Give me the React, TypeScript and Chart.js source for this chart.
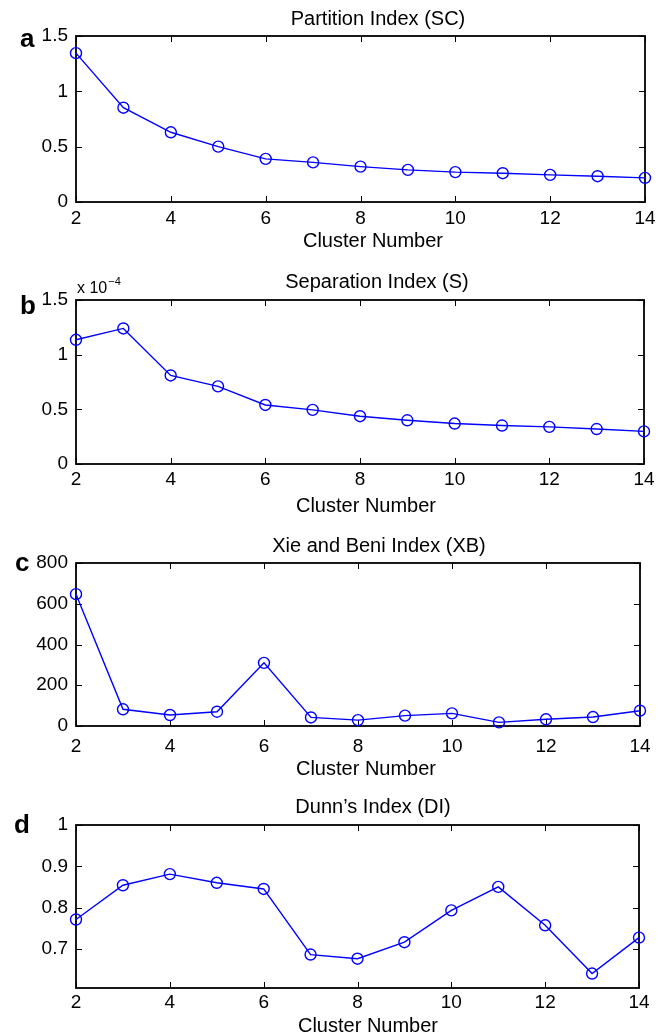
import React, { useEffect, useRef } from "react";
import { Chart, registerables } from "chart.js";

Chart.register(...registerables);

// ---------------- data ----------------
const CLUSTER_NUMBERS = [2, 3, 4, 5, 6, 7, 8, 9, 10, 11, 12, 13, 14];
const X_TICKS = [2, 4, 6, 8, 10, 12, 14];

const PARTITION_SC = [1.345, 0.852, 0.63, 0.5, 0.39, 0.358, 0.32, 0.29, 0.27, 0.26, 0.245, 0.233, 0.218];
// Separation index, in units of 10^-4
const SEPARATION_S = [1.136, 1.24, 0.81, 0.71, 0.54, 0.495, 0.437, 0.4, 0.37, 0.352, 0.34, 0.32, 0.298];
const XIE_BENI_XB = [647, 82, 54, 70, 310, 42, 29, 51, 62, 18, 33, 44, 75];
const DUNN_DI = [0.771, 0.854, 0.881, 0.86, 0.845, 0.686, 0.676, 0.716, 0.793, 0.85, 0.757, 0.64, 0.727];

const Y_TICKS_SC = [0, 0.5, 1, 1.5];
const Y_TICKS_S = [0, 0.5, 1, 1.5];
const Y_TICKS_XB = [0, 200, 400, 600, 800];
const Y_TICKS_DI = [0.7, 0.8, 0.9, 1];

const TITLES = [
  "Partition Index (SC)",
  "Separation Index (S)",
  "Xie and Beni Index (XB)",
  "Dunn\u2019s Index (DI)",
];
const PANEL_LETTERS = ["a", "b", "c", "d"];
const X_LABEL = "Cluster Number";
const EXPONENT_BASE = "x 10";
const EXPONENT_POWER = "\u22124";

// ---------------- layout / style ----------------
const WIDTH = 666;
const PLOT_LEFT = 76;
const X_AXIS_H = 30;
const TICK_LEN = 6;
const BLUE = "#0000ff";
const FONT = '"Liberation Sans", Arial, Helvetica, sans-serif';

const PANELS = [
  {
    values: PARTITION_SC, yTicks: Y_TICKS_SC, yMin: 0, yMax: 1.5,
    top: 0, height: 259, plotTop: 36, plotBottom: 202, plotRight: 645, tickPad: 5,
    titleX: 378, titleY: 25, xLabelX: 373, xLabelY: 247, letterX: 20, letterY: 46.5, exponent: false,
  },
  {
    values: SEPARATION_S, yTicks: Y_TICKS_S, yMin: 0, yMax: 1.5,
    top: 259, height: 259, plotTop: 300, plotBottom: 464, plotRight: 644, tickPad: 4,
    titleX: 377, titleY: 288, xLabelX: 366, xLabelY: 512, letterX: 20, letterY: 314, exponent: true,
  },
  {
    values: XIE_BENI_XB, yTicks: Y_TICKS_XB, yMin: 0, yMax: 800,
    top: 518, height: 259, plotTop: 563, plotBottom: 726, plotRight: 640, tickPad: 9,
    titleX: 379, titleY: 552, xLabelX: 366, xLabelY: 775, letterX: 15, letterY: 570.5, exponent: false,
  },
  {
    values: DUNN_DI, yTicks: Y_TICKS_DI, yMin: 0.605, yMax: 1,
    top: 777, height: 258, plotTop: 825, plotBottom: 988, plotRight: 639, tickPad: 3,
    titleX: 373, titleY: 813, xLabelX: 368, xLabelY: 1032, letterX: 14, letterY: 833, exponent: false,
  },
];

const matlabAxesPlugin = {
  id: "matlabAxes",
  beforeDatasetsDraw(chart: any) {
    const { ctx, chartArea: a, scales } = chart;
    ctx.save();
    ctx.strokeStyle = "#000";
    ctx.lineWidth = 1;
    ctx.beginPath();
    scales.x.ticks.forEach((t: any) => {
      const px = Math.round(scales.x.getPixelForValue(t.value)) + 0.5;
      ctx.moveTo(px, a.bottom);
      ctx.lineTo(px, a.bottom - TICK_LEN);
      ctx.moveTo(px, a.top);
      ctx.lineTo(px, a.top + TICK_LEN);
    });
    scales.y.ticks.forEach((t: any) => {
      const py = Math.round(scales.y.getPixelForValue(t.value)) + 0.5;
      ctx.moveTo(a.left, py);
      ctx.lineTo(a.left + TICK_LEN, py);
      ctx.moveTo(a.right, py);
      ctx.lineTo(a.right - TICK_LEN, py);
    });
    ctx.stroke();
    ctx.lineWidth = 1.8;
    ctx.strokeRect(a.left, a.top, a.right - a.left, a.bottom - a.top);
    ctx.restore();
  },
  afterDraw(chart: any, _args: any, opts: any) {
    const { ctx } = chart;
    ctx.save();
    ctx.fillStyle = "#000";
    ctx.textBaseline = "alphabetic";
    ctx.font = `20px ${FONT}`;
    ctx.textAlign = "center";
    ctx.fillText(opts.title, opts.titleX, opts.titleY);
    ctx.fillText(opts.xLabel, opts.xLabelX, opts.xLabelY);
    ctx.textAlign = "left";
    ctx.font = `bold 26px ${FONT}`;
    ctx.fillText(opts.letter, opts.letterX, opts.letterY);
    if (opts.exponent) {
      ctx.font = `16px ${FONT}`;
      ctx.fillText(EXPONENT_BASE, opts.expX, opts.expY);
      const w = ctx.measureText(EXPONENT_BASE).width;
      ctx.font = `11px ${FONT}`;
      ctx.fillText(EXPONENT_POWER, opts.expX + w + 1, opts.expY - 8);
    }
    ctx.restore();
  },
};

function Panel({ cfg, index }: { cfg: any; index: number }) {
  const ref = useRef<HTMLCanvasElement>(null);
  useEffect(() => {
    const canvas = ref.current!;
    const tickFont = { family: FONT, size: 19 };
    const chart = new Chart(canvas, {
      type: "line",
      data: {
        datasets: [
          {
            data: CLUSTER_NUMBERS.map((x, i) => ({ x, y: cfg.values[i] })),
            borderColor: BLUE,
            borderWidth: 1.4,
            pointRadius: 5.5,
            pointBorderWidth: 1.4,
            pointBorderColor: BLUE,
            pointBackgroundColor: "rgba(0,0,0,0)",
            pointStyle: "circle",
            tension: 0,
            fill: false,
            clip: false,
          },
        ],
      },
      options: {
        responsive: false,
        animation: false,
        devicePixelRatio: 1,
        layout: {
          padding: {
            top: cfg.plotTop - cfg.top,
            left: 0,
            right: WIDTH - cfg.plotRight,
            bottom: cfg.top + cfg.height - cfg.plotBottom - X_AXIS_H,
          },
        },
        scales: {
          x: {
            type: "linear",
            min: 2,
            max: 14,
            grid: { display: false, drawTicks: false },
            border: { display: false },
            afterBuildTicks: (s: any) => {
              s.ticks = X_TICKS.map((v) => ({ value: v }));
            },
            afterFit: (s: any) => {
              s.height = X_AXIS_H;
            },
            ticks: {
              font: tickFont,
              color: "#000",
              padding: cfg.tickPad,
              maxRotation: 0,
              autoSkip: false,
              callback: (v: any) => String(v),
            },
          },
          y: {
            type: "linear",
            min: cfg.yMin,
            max: cfg.yMax,
            grid: { display: false, drawTicks: false },
            border: { display: false },
            afterBuildTicks: (s: any) => {
              s.ticks = cfg.yTicks.map((v: number) => ({ value: v }));
            },
            afterFit: (s: any) => {
              s.width = PLOT_LEFT;
            },
            ticks: {
              font: tickFont,
              color: "#000",
              padding: 8,
              autoSkip: false,
              callback: (v: any) => String(v),
            },
          },
        },
        plugins: {
          legend: { display: false },
          tooltip: { enabled: false },
          matlabAxes: {
            title: TITLES[index],
            titleX: cfg.titleX,
            titleY: cfg.titleY - cfg.top,
            xLabel: X_LABEL,
            xLabelX: cfg.xLabelX,
            xLabelY: cfg.xLabelY - cfg.top,
            letter: PANEL_LETTERS[index],
            letterX: cfg.letterX,
            letterY: cfg.letterY - cfg.top,
            exponent: cfg.exponent,
            expX: 77,
            expY: 293 - cfg.top,
          },
        } as any,
      },
      plugins: [matlabAxesPlugin],
    } as any);
    return () => chart.destroy();
  }, []);
  return (
    <canvas
      ref={ref}
      width={WIDTH}
      height={cfg.height}
      style={{ position: "absolute", left: 0, top: cfg.top, display: "block" }}
    />
  );
}

export default function App() {
  return (
    <div
      style={{
        position: "absolute",
        left: 0,
        top: 0,
        width: WIDTH,
        height: 1035,
        background: "#fff",
      }}
    >
      {PANELS.map((cfg, i) => (
        <Panel key={i} cfg={cfg} index={i} />
      ))}
    </div>
  );
}
